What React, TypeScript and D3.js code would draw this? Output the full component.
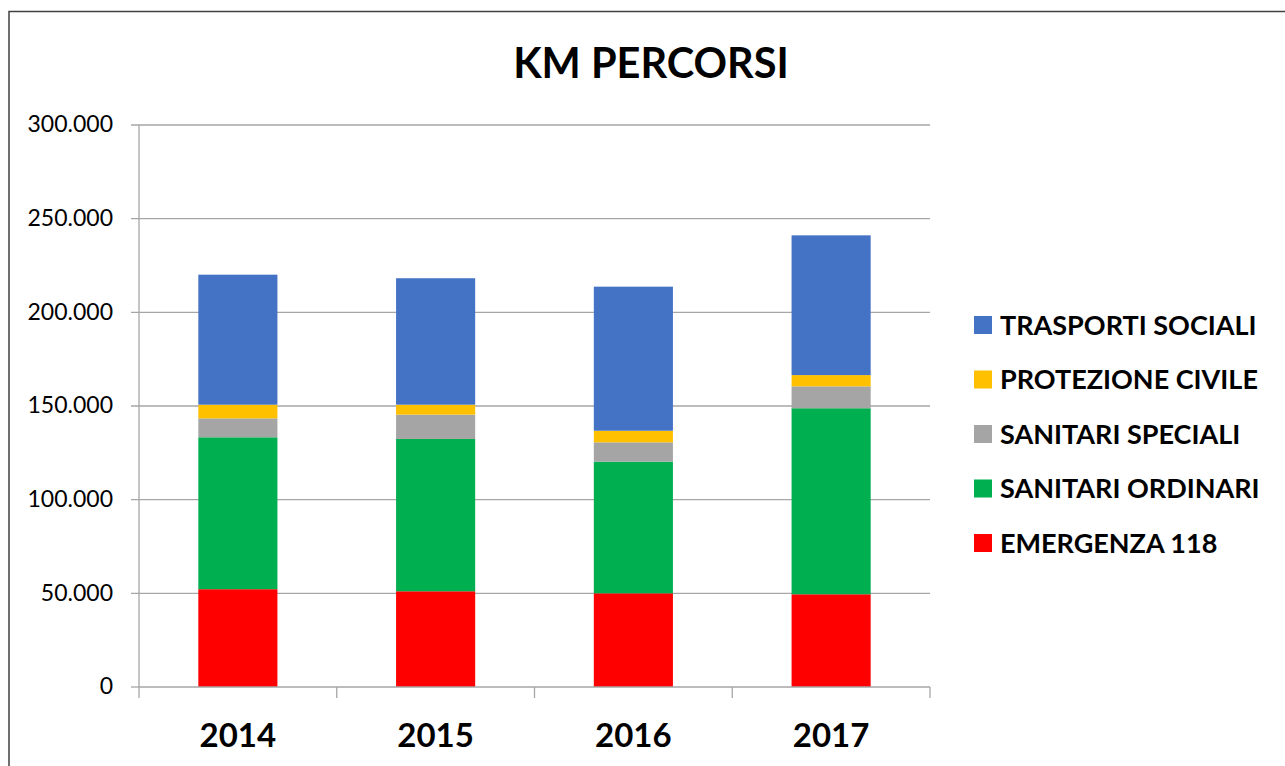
import React from "react";
import * as d3 from "d3";

// anni e chilometri per tipo di servizio
const years = ["2014", "2015", "2016", "2017"];
const emergenza118 = [52200, 51100, 50000, 49500];
const sanitariOrdinari = [81100, 81300, 70300, 99300];
const sanitariSpeciali = [10100, 13000, 10300, 11700];
const protezioneCivile = [7300, 5300, 6200, 6000];
const trasportiSociali = [69400, 67500, 76900, 74600];

const seriesNames = [
  "EMERGENZA 118",
  "SANITARI ORDINARI",
  "SANITARI SPECIALI",
  "PROTEZIONE CIVILE",
  "TRASPORTI SOCIALI",
];
const seriesColors = ["#FF0000", "#00B050", "#A5A5A5", "#FFC000", "#4472C4"];
const yTicks = [0, 50000, 100000, 150000, 200000, 250000, 300000];

const W = 1285;
const H = 766;
const FONT = "Lato, 'Open Sans', sans-serif";

const itLocale = d3.formatLocale({
  decimal: ",",
  thousands: ".",
  grouping: [3],
  currency: ["€", ""],
});
const fmt = itLocale.format(",");

export default function App() {
  const rows = years.map((y, i) => ({
    year: y,
    [seriesNames[0]]: emergenza118[i],
    [seriesNames[1]]: sanitariOrdinari[i],
    [seriesNames[2]]: sanitariSpeciali[i],
    [seriesNames[3]]: protezioneCivile[i],
    [seriesNames[4]]: trasportiSociali[i],
  }));

  const stacked = d3.stack<any>().keys(seriesNames)(rows);

  const x = d3
    .scaleBand()
    .domain(years)
    .range([139, 930])
    .paddingInner(0.6)
    .paddingOuter(0.3);
  const y = d3.scaleLinear().domain([0, 300000]).range([687, 125]);
  const color = d3.scaleOrdinal<string>().domain(seriesNames).range(seriesColors);

  // confini tra le categorie per le tacche dell'asse x
  const step = x.step();
  const boundaries = d3.range(years.length + 1).map((i) => 139 + i * step);

  const legendOrder = [...seriesNames].reverse();

  return (
    <svg
      width={W}
      height={H}
      style={{ position: "fixed", left: 0, top: 0, background: "#fff" }}
      fontFamily={FONT}
    >
      <rect x={0} y={0} width={W} height={H} fill="#fff" />
      <rect
        x={9}
        y={11.5}
        width={W + 20}
        height={H + 20}
        fill="none"
        stroke="#404040"
        strokeWidth={1.5}
      />

      <text
        x={651}
        y={78}
        textAnchor="middle"
        fontSize={41.5}
        fontWeight="bold"
        fill="#000"
      >
        KM PERCORSI
      </text>

      {/* griglia e tacche asse y */}
      <g>
        {yTicks.map((t) => (
          <g key={t}>
            <line
              x1={131}
              x2={t === 0 ? 139 : 930}
              y1={y(t)}
              y2={y(t)}
              stroke="#a6a6a6"
              strokeWidth={1.3}
            />
            <text
              x={113}
              y={y(t)}
              dy="0.32em"
              textAnchor="end"
              fontSize={23}
              fill="#000"
            >
              {fmt(t)}
            </text>
          </g>
        ))}
      </g>

      {/* barre impilate */}
      <g>
        {stacked.map((s) => (
          <g key={s.key} fill={color(s.key)}>
            {s.map((d, i) => (
              <rect
                key={years[i]}
                x={x(years[i])}
                y={y(d[1])}
                width={x.bandwidth()}
                height={y(d[0]) - y(d[1])}
              />
            ))}
          </g>
        ))}
      </g>

      {/* asse x */}
      <g>
        <line x1={139} x2={139} y1={125} y2={687} stroke="#a6a6a6" strokeWidth={1.3} />
        <line x1={139} x2={930} y1={687} y2={687} stroke="#a6a6a6" strokeWidth={1.3} />
        {boundaries.map((b, i) => (
          <line
            key={i}
            x1={b}
            x2={b}
            y1={687}
            y2={698}
            stroke="#a6a6a6"
            strokeWidth={1.3}
          />
        ))}
        {years.map((yr) => (
          <text
            key={yr}
            x={(x(yr) ?? 0) + x.bandwidth() / 2}
            y={747}
            textAnchor="middle"
            fontSize={33}
            fontWeight="bold"
            fill="#000"
          >
            {yr}
          </text>
        ))}
      </g>

      {/* legenda */}
      <g>
        {legendOrder.map((name, i) => {
          const cy = 325 + i * 54.5;
          return (
            <g key={name}>
              <rect x={974} y={cy - 9} width={18} height={18} fill={color(name)} />
              <text
                x={1000}
                y={cy}
                dy="0.36em"
                fontSize={27}
                fontWeight="bold"
                fill="#000"
              >
                {name}
              </text>
            </g>
          );
        })}
      </g>
    </svg>
  );
}
